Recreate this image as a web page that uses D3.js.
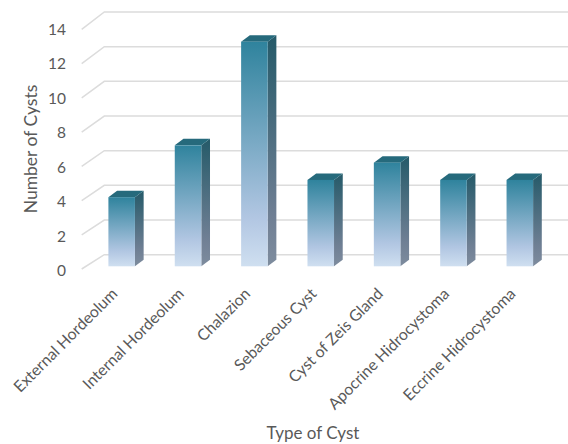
<!DOCTYPE html>
<html>
<head>
<meta charset="utf-8">
<script src="https://cdn.jsdelivr.net/npm/d3@7"></script>
<style>
  html, body { margin: 0; padding: 0; background: #fff; }
  svg { display: block; font-family: Lato, "Open Sans", sans-serif; }
</style>
</head>
<body>
<svg id="chart" width="568" height="444"></svg>
<script>
const categories = ["External Hordeolum", "Internal Hordeolum", "Chalazion", "Sebaceous Cyst",
  "Cyst of Zeis Gland", "Apocrine Hidrocystoma", "Eccrine Hidrocystoma"];
const cystCounts = [4, 7, 13, 5, 6, 5, 5];
const yTicks = [0, 2, 4, 6, 8, 10, 12, 14];

const svg = d3.select("#chart");

// Front plane of the 3-D box, and the back wall it recedes to
const x = d3.scaleBand().domain(categories).range([88.5, 553]).paddingInner(0.6).paddingOuter(0.3);
const yFront = d3.scaleLinear().domain([0, 14]).range([266.3, 24.4]);
const yWall = d3.scaleLinear().domain([0, 14]).range([254.7, 12]);
const yFloor = d3.scaleLinear().domain([0, 14]).range([269, 29.3]);
const yLabel = d3.scaleLinear().domain([0, 14]).range([272.5, 31]);
const depthX = 8.7, depthY = 6.5;
const wallLeft = 104.3, floorLeft = 81.7, wallRight = 568;

const defs = svg.append("defs");
function ramp(id, stops) {
  const g = defs.append("linearGradient").attr("id", id)
    .attr("x1", 0).attr("x2", 0).attr("y1", 0).attr("y2", 1);
  g.selectAll("stop").data(stops).join("stop")
    .attr("offset", d => d[0]).attr("stop-color", d => d[1]);
}
ramp("face", [[0, "#2f839d"], [0.78, "#b1c6e2"], [1, "#cfdff0"]]);
ramp("side", [[0, "#255a69"], [0.78, "#6f7f94"], [1, "#7e8c9e"]]);

// Gridlines on the back wall with their returns along the side wall
const grid = svg.append("g").attr("fill", "none").attr("stroke", "#dcdcdc").attr("stroke-width", 1.5);
grid.selectAll("path").data(yTicks).join("path")
  .attr("d", d => d3.line()([[floorLeft, yFloor(d)], [wallLeft, yWall(d)], [wallRight, yWall(d)]]));

// Value axis labels
svg.append("g").selectAll("text").data(yTicks).join("text")
  .attr("x", 66).attr("y", d => yLabel(d))
  .attr("text-anchor", "end").attr("dominant-baseline", "middle")
  .attr("font-size", 15.5).attr("fill", "#595959")
  .text(d => d);

// Bars: side, top cap, then front face
const bars = svg.append("g").selectAll("g").data(categories).join("g");
const w = x.bandwidth();
bars.append("path").attr("fill", "url(#side)").attr("d", (c, i) => {
  const r = x(c) + w, t = yFront(cystCounts[i]), b = yFront(0);
  return d3.line()([[r, t], [r + depthX, t - depthY], [r + depthX, b - depthY], [r, b]]) + "Z";
});
bars.append("path").attr("fill", "#266a7c").attr("d", (c, i) => {
  const l = x(c), t = yFront(cystCounts[i]);
  return d3.line()([[l, t], [l + depthX, t - depthY], [l + w + depthX, t - depthY], [l + w, t]]) + "Z";
});
bars.append("rect")
  .attr("x", c => x(c)).attr("width", w)
  .attr("y", (c, i) => yFront(cystCounts[i]))
  .attr("height", (c, i) => yFront(0) - yFront(cystCounts[i]))
  .attr("fill", "url(#face)");

// Category labels, rotated and ending under each bar
svg.append("g").selectAll("text").data(categories).join("text")
  .attr("transform", c => `translate(${x(c) + w / 2 - 6},${292}) rotate(-45)`)
  .attr("text-anchor", "end").attr("dominant-baseline", "middle")
  .attr("font-size", 15.8).attr("fill", "#595959")
  .text(c => c);

// Axis titles
svg.append("text").attr("x", 313).attr("y", 434.5).attr("text-anchor", "middle")
  .attr("dominant-baseline", "middle").attr("font-size", 17).attr("fill", "#595959").text("Type of Cyst");
svg.append("text").attr("transform", "translate(33,149) rotate(-90)").attr("text-anchor", "middle")
  .attr("dominant-baseline", "middle").attr("font-size", 17.5).attr("fill", "#595959").text("Number of Cysts");
</script>
</body>
</html>
